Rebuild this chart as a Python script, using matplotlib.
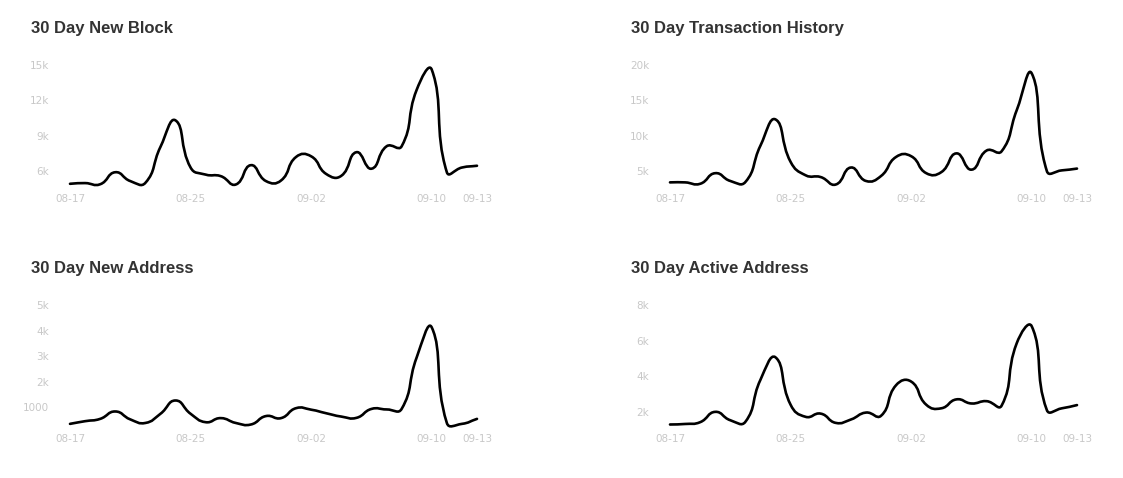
import numpy as np
import matplotlib.pyplot as plt
from matplotlib.path import Path
from matplotlib.patches import PathPatch

# 28 days of data
dates = ['08-17', '08-18', '08-19', '08-20', '08-21', '08-22', '08-23',
         '08-24', '08-25', '08-26', '08-27', '08-28', '08-29', '08-30',
         '08-31', '09-01', '09-02', '09-03', '09-04', '09-05', '09-06',
         '09-07', '09-08', '09-09', '09-10', '09-11', '09-12', '09-13']
shown_dates = ['08-17', '08-25', '09-02', '09-10', '09-13']

new_block = [4920, 4980, 4880, 5900, 5150, 5000, 8050, 10300, 6300, 5700,
             5570, 4860, 6500, 5150, 5200, 7200, 7250, 5750, 5600, 7600,
             6200, 8100, 8100, 12900, 14600, 5900, 6300, 6450]
transactions = [3400, 3400, 3200, 4700, 3600, 3450, 8600, 12300, 6300, 4400,
                4150, 3100, 5500, 3600, 4300, 7000, 7100, 4700, 4850, 7500,
                5200, 7900, 7800, 13600, 18800, 5000, 5100, 5350]
new_address = [345, 450, 540, 830, 520, 380, 740, 1260, 740, 410,
               570, 380, 320, 650, 570, 960, 900, 760, 630, 580,
               930, 910, 930, 2950, 4120, 380, 345, 540]
active_address = [1290, 1320, 1420, 2000, 1530, 1440, 3800, 5060, 2400, 1720,
                  1900, 1380, 1570, 1960, 1780, 3500, 3700, 2400, 2200, 2700,
                  2470, 2600, 2350, 5850, 6800, 2100, 2200, 2380]

panels = [
    ('30 Day New Block', new_block, [6000, 9000, 12000, 15000],
     ['6k', '9k', '12k', '15k']),
    ('30 Day Transaction History', transactions, [5000, 10000, 15000, 20000],
     ['5k', '10k', '15k', '20k']),
    ('30 Day New Address', new_address, [1000, 2000, 3000, 4000, 5000],
     ['1000', '2k', '3k', '4k', '5k']),
    ('30 Day Active Address', active_address, [2000, 4000, 6000, 8000],
     ['2k', '4k', '6k', '8k']),
]

W, H = 1123, 478
fig = plt.figure(figsize=(W / 100, H / 100), dpi=100)


def smooth_path(ax, xs, ys, smooth=0.5):
    # echarts-like bezier smoothing, worked out in pixel space
    pts = ax.transData.transform(np.column_stack([xs, ys]))
    n = len(pts)
    cps = []
    for i in range(n):
        p = pts[i]
        prev = pts[i - 1] if i > 0 else p
        nxt = pts[i + 1] if i < n - 1 else p
        v = (nxt - prev) * smooth
        d0 = np.hypot(*(p - prev))
        d1 = np.hypot(*(nxt - p))
        s = d0 + d1
        if s:
            d0, d1 = d0 / s, d1 / s
        cps.append((p - v * d0, p + v * d1))
    verts = [pts[0]]
    codes = [Path.MOVETO]
    for i in range(n - 1):
        verts += [cps[i][1], cps[i + 1][0], pts[i + 1]]
        codes += [Path.CURVE4] * 3
    verts = ax.transData.inverted().transform(np.array(verts))
    return Path(verts, codes)


lefts = [70, 670]
tops = [65, 305]
pw, ph = 407, 119.5
x = np.arange(len(dates))

for k, (title, vals, yt, ylab) in enumerate(panels):
    col, row = k % 2, k // 2
    l, t = lefts[col], tops[row]
    ax = fig.add_axes([l / W, 1 - (t + ph) / H, pw / W, ph / H])
    ax.set_xlim(0, len(dates) - 1)
    ax.set_ylim(min(vals), yt[-1])
    ax.add_patch(PathPatch(smooth_path(ax, x, vals), fill=False,
                           edgecolor='black', lw=1.9, clip_on=False,
                           capstyle='round', joinstyle='round'))
    ax.set_yticks(yt)
    ax.set_yticklabels(ylab)
    ax.set_xticks([dates.index(d) for d in shown_dates])
    ax.set_xticklabels(shown_dates)
    ax.tick_params(length=0, colors='#c8c8c8', labelsize=7.5)
    ax.tick_params(axis='y', pad=15)
    ax.tick_params(axis='x', pad=7)
    for s in ax.spines.values():
        s.set_visible(False)
    fig.text((l - 39) / W, 1 - (t - 37) / H, title, fontsize=12,
             family='Liberation Sans', fontweight='bold', color='#333333',
             va='center', ha='left')

fig.savefig('out.png', dpi=100)
